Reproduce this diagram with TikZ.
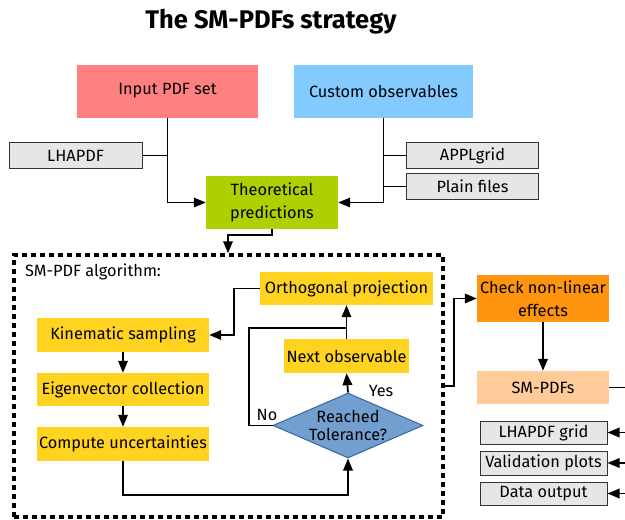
\documentclass[tikz,border=0pt]{standalone}
\usepackage{fontspec}
\setmainfont{Fira Sans}
\usetikzlibrary{arrows.meta,shapes.geometric}
\definecolor{cpink}{HTML}{FF8080}
\definecolor{cblue}{HTML}{83CAFF}
\definecolor{cgreen}{HTML}{AECF00}
\definecolor{cyel}{HTML}{FFD320}
\definecolor{cdia}{HTML}{729FCF}
\definecolor{cdiab}{HTML}{3465A4}
\definecolor{corange}{HTML}{FF950E}
\definecolor{cpeach}{HTML}{FFCC99}
\definecolor{cgrey}{HTML}{E6E6E6}
\tikzset{
  txt/.style={font=\fontsize{16.3}{22.5}\selectfont},
  basebox/.style={rectangle, inner sep=0pt, align=center, txt},
  colbox/.style={basebox, fill=#1},
  greybox/.style={basebox, fill=cgrey, draw=black!80, line width=1pt},
  conn/.style={line width=1.8pt},
  arr/.style={conn, -{Triangle[length=12pt,width=9.5pt]}},
}
\begin{document}
\begin{tikzpicture}[x=1pt,y=-1pt]
\useasboundingbox (0,0) rectangle (625,520);
\node (title) at (271,22) {\fontsize{25.5}{30}\selectfont\bfseries The SM-PDFs strategy};
\node (inpdf) [colbox=cpink, minimum width=181, minimum height=53] at (167.5,91) {Input PDF set};
\node (custom) [colbox=cblue, minimum width=179, minimum height=53] at (383.5,91) {Custom observables};
\node (lhapdf) [greybox, minimum width=133, minimum height=26] at (75.5,155.5) {LHAPDF};
\node (applgrid) [greybox, minimum width=132, minimum height=26] at (472.5,155.5) {APPLgrid};
\node (plain) [greybox, minimum width=132, minimum height=26] at (472.5,186.5) {Plain files};
\node (theo) [colbox=cgreen, minimum width=132, minimum height=53] at (272,202.5) {Theoretical\\predictions};

\node (algo) [rectangle, draw, line width=3.5pt, dash pattern=on 5pt off 4pt, minimum width=429, minimum height=262] at (228.5,386) {};
\node (algolab) [anchor=west, inner sep=0pt, txt] at (25,272) {SM-PDF algorithm:};

\node (ortho) [colbox=cyel, minimum width=173, minimum height=33] at (346.5,288.5) {Orthogonal projection};
\node (kin) [colbox=cyel, minimum width=172, minimum height=34] at (123,335) {Kinematic sampling};
\node (eig) [colbox=cyel, minimum width=172, minimum height=33] at (123,389.5) {Eigenvector collection};
\node (comp) [colbox=cyel, minimum width=172, minimum height=34] at (123,444) {Compute uncertainties};
\node (next) [colbox=cyel, minimum width=125, minimum height=34] at (346.5,356) {Next observable};
\node (tol) [diamond, fill=cdia, draw=cdiab, line width=1pt, inner sep=0pt, aspect=2.3, minimum width=150, minimum height=65, align=center, font=\fontsize{16.3}{18}\selectfont] at (348,425.5) {Reached\\Tolerance?};
\node (yes) [txt, inner sep=0pt] at (381,391) {Yes};
\node (no) [txt, inner sep=0pt] at (267,415) {No};

\node (check) [colbox=corange, minimum width=132, minimum height=47] at (543,298.5) {Check non-linear\\effects};
\node (smpdfs) [colbox=cpeach, minimum width=132, minimum height=33] at (543,387.5) {SM-PDFs};
\node (lhgrid) [greybox, minimum width=127, minimum height=23] at (543.5,432.5) {LHAPDF grid};
\node (valid) [greybox, minimum width=127, minimum height=24] at (543.5,463) {Validation plots};
\node (dataout) [greybox, minimum width=127, minimum height=23] at (543.5,493.5) {Data output};

% top connectors
\draw[arr] (inpdf.south) |- (theo.west);
\draw[conn] (lhapdf.east) -- (lhapdf.east -| inpdf.south);
\draw[arr] (custom.south) |- (theo.east);
\draw[conn] (applgrid.west) -- (applgrid.west -| custom.south);
\draw[conn] (plain.west) -- (plain.west -| custom.south);
\coordinate (t1) at (272,235);
\coordinate (t2) at (228,235);
\draw[arr] (theo.south) -- (t1) -- (t2) -- (t2 |- algo.north);

% algorithm
\coordinate (o1) at (234,0);
\draw[arr] (ortho.west) -- (o1 |- ortho.west) -- (o1 |- kin.east) -- (kin.east);
\draw[arr] (kin.south) -- (eig.north);
\draw[arr] (eig.south) -- (comp.north);
\coordinate (c1) at (0,495);
\draw[arr] (comp.south) -- (comp.south |- c1) -| (tol.south);
\draw[arr] (tol.north) -- (next.south);
\draw[arr] (next.north) -- (ortho.south);
\coordinate (n1) at (249,328);
\draw[conn] (tol.west) -| (n1) -- (n1 -| next.north);

% right side
\coordinate (r1) at (454,0);
\draw[arr] (algo.east) -- (r1 |- algo.east) |- (check.west);
\draw[arr] (check.south) -- (smpdfs.north);
\coordinate (e0) at (626,387.5);
\draw[conn] (smpdfs.east) -- (e0);
\coordinate (e1) at (626,432.5);
\coordinate (e2) at (626,463);
\coordinate (e3) at (626,493.5);
\draw[arr] (e1) -- (lhgrid.east);
\draw[arr] (e2) -- (valid.east);
\draw[arr] (e3) -- (dataout.east);
\end{tikzpicture}
\end{document}
